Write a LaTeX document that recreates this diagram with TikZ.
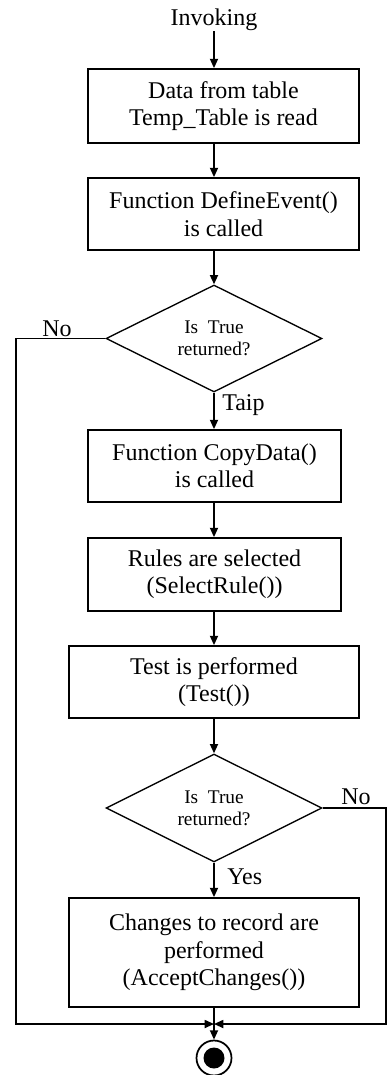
\documentclass[tikz,border=0pt]{standalone}
\usepackage{fontspec}
\setmainfont{Liberation Serif}
\usetikzlibrary{shapes.geometric,arrows.meta}
\begin{document}
\begin{tikzpicture}[x=0.75pt,y=-0.75pt,
  box/.style={draw,line width=1.3pt,inner sep=0pt,align=center,font=\fontsize{18}{20.5}\selectfont},
  dec/.style={draw,diamond,aspect=2,line width=1pt,inner sep=0pt,align=center,font=\fontsize{14.5}{16.5}\selectfont},
  arr/.style={line width=1.3pt,-{Triangle[length=7pt,width=6pt]}},
  lbl/.style={font=\fontsize{18}{20.5}\selectfont,inner sep=0pt}]
\useasboundingbox (0,0) rectangle (387,1075);
\node[lbl] (inv) at (214,20) {Invoking};
\node[box,minimum width=271*0.75pt,minimum height=74*0.75pt] (b1) at (223.5,106) {Data from table\\Temp\_Table is read};
\node[box,minimum width=271*0.75pt,minimum height=72*0.75pt] (b2) at (223.5,214) {Function DefineEvent()\\is called};
\node[dec,minimum width=216*0.75pt,minimum height=107*0.75pt] (d1) at (214,338.5) {Is\ \ True\\returned?};
\node[box,minimum width=253*0.75pt,minimum height=72*0.75pt] (b3) at (214.5,466) {Function CopyData()\\is called};
\node[box,minimum width=253*0.75pt,minimum height=73*0.75pt] (b4) at (214.5,574.5) {Rules are selected\\(SelectRule())};
\node[box,minimum width=290*0.75pt,minimum height=72*0.75pt] (b5) at (214,682) {Test is performed\\(Test())};
\node[dec,minimum width=216*0.75pt,minimum height=108*0.75pt] (d2) at (214,808) {Is\ \ True\\returned?};
\node[box,minimum width=290*0.75pt,minimum height=109*0.75pt] (b6) at (214,952.5) {Changes to record are\\performed\\(AcceptChanges())};
\node[circle,draw,line width=1.3pt,minimum size=35*0.75pt,inner sep=0pt] (end) at (214,1058) {};
\node[circle,fill,minimum size=21*0.75pt,inner sep=0pt] (dot) at (end) {};
\coordinate (merge) at (214,1024);
\coordinate (lc) at (16,0);
\coordinate (rc) at (386,0);
% labels
\node[lbl] (no1) at (57,329) {No};
\node[lbl,anchor=west] (taip) at (222,405) {Taip};
\node[lbl] (no2) at (356,797) {No};
\node[lbl,anchor=west] (yes) at (227,877) {Yes};
% connectors
\draw[arr] (inv.south) -- (inv.south |- b1.north);
\draw[arr] (b1.south -| inv) -- (b2.north -| inv);
\draw[arr] (b2.south -| inv) -- (d1.north);
\draw[arr] (d1.south) -- (b3.north -| d1.south);
\draw[arr] (b3.south -| d1.south) -- (b4.north -| d1.south);
\draw[arr] (b4.south -| d1.south) -- (b5.north);
\draw[arr] (b5.south) -- (d2.north);
\draw[arr] (d2.south) -- (b6.north);
\draw[arr] (b6.south) -- (end.north);
\draw[arr] (d1.west) -- (d1.west -| lc) |- (merge);
\draw[arr] (d2.east) -- (d2.east -| rc) |- (merge);
\end{tikzpicture}
\end{document}
